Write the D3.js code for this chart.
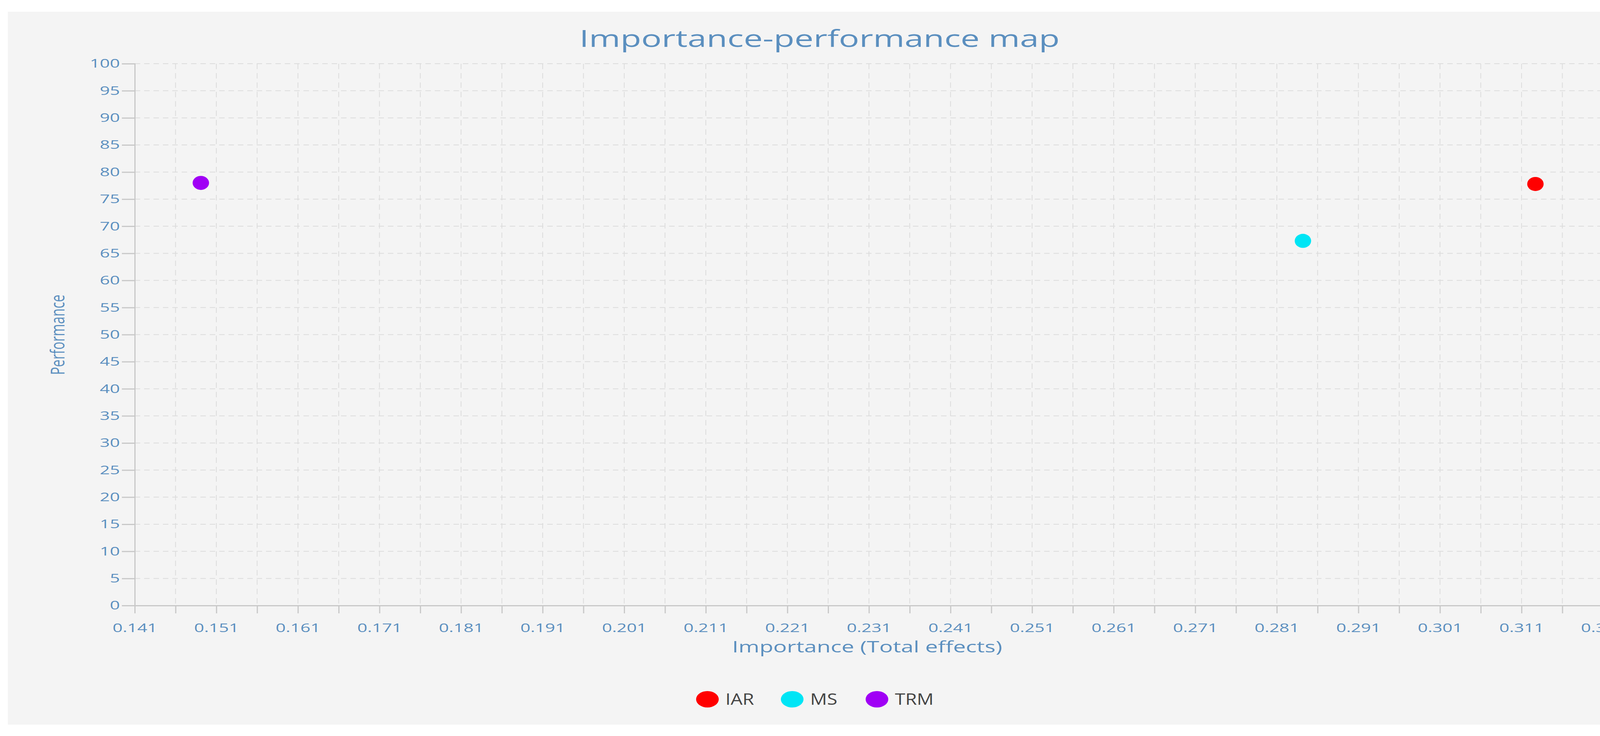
<!DOCTYPE html>
<html><head><meta charset="utf-8">
<script src="https://cdn.jsdelivr.net/npm/d3@7"></script>
<style>html,body{margin:0;padding:0;background:#fff;overflow:hidden}svg{display:block}</style></head>
<body><svg id="c" width="4200" height="1884"></svg>
<script>
const names = ["IAR","MS","TRM"];
const importance = [0.3127,0.2842,0.1491];
const performance = [77.8,67.3,78.0];
const colors = ["#ff0000","#00e5f5","#a000f5"];
const xTickLabels = ["0.141","0.151","0.161","0.171","0.181","0.191","0.201","0.211","0.221","0.231","0.241","0.251","0.261","0.271","0.281","0.291","0.301","0.311","0.321"];
const yTicks = d3.range(0,101,5);

const svg = d3.select("#c");
const font = "'Open Sans', 'Noto Sans', sans-serif";
const blue = "#5b8fbf";
const SX = 1.45;
svg.append("rect").attr("x",20).attr("y",30).attr("width",4158).attr("height",1825).attr("fill","#f4f4f4");

const L=345,R=4104,T=163,B=1550;
const x=d3.scaleLinear().domain([0.141,0.321]).range([L,R]);
const y=d3.scaleLinear().domain([0,100]).range([B,T]);
const minor=d3.range(0,37).map(i=>0.141+i*0.005);

const g=svg.append("g");
g.selectAll(".vg").data(minor.slice(1)).enter().append("line")
 .attr("x1",d=>x(d)).attr("x2",d=>x(d)).attr("y1",T).attr("y2",B)
 .attr("stroke","#dcdcdc").attr("stroke-width",2).attr("stroke-dasharray","14,10");
g.selectAll(".hg").data(yTicks.slice(1)).enter().append("line")
 .attr("x1",L).attr("x2",R).attr("y1",d=>y(d)).attr("y2",d=>y(d))
 .attr("stroke","#dcdcdc").attr("stroke-width",2).attr("stroke-dasharray","14,10");

const xa=svg.append("g").attr("transform",`translate(0,${B})`)
 .call(d3.axisBottom(x).tickValues(minor).tickSize(20).tickFormat((d,i)=>i%2===0?xTickLabels[i/2]:""));
const ya=svg.append("g").attr("transform",`translate(${L},0)`)
 .call(d3.axisLeft(y).tickValues(yTicks).tickSize(33).tickFormat(d3.format("d")));
[xa,ya].forEach(a=>{a.selectAll("path,line").attr("stroke","#c8c8c8").attr("stroke-width",3);
 a.selectAll("text").attr("fill",blue).style("font-family",font).style("font-size","31px")
  .attr("transform",`scale(${SX},1)`);});
xa.selectAll("text").attr("dy","1.45em");
ya.selectAll("text").attr("x",-38/SX);

svg.selectAll(".pt").data(names).enter().append("ellipse")
 .attr("cx",(d,i)=>x(importance[i])).attr("cy",(d,i)=>y(performance[i]))
 .attr("rx",21).attr("ry",18).attr("fill",(d,i)=>colors[i]);

svg.append("text").attr("transform",`translate(2098,120) scale(${SX},1)`).attr("text-anchor","middle")
 .attr("fill",blue).style("font-family",font).style("font-size","60px").text("Importance-performance map");
svg.append("text").attr("transform",`translate(165,857) rotate(-90) scale(1,${SX})`).attr("text-anchor","middle")
 .attr("fill",blue).style("font-family",font).style("font-size","34px").text("Performance");
svg.append("text").attr("transform",`translate(2220,1670) scale(${SX},1)`).attr("text-anchor","middle")
 .attr("fill",blue).style("font-family",font).style("font-size","40px").text("Importance (Total effects)");

const lx=[1811,2028,2245];
const lg=svg.selectAll(".lg").data(names).enter().append("g").attr("transform",(d,i)=>`translate(${lx[i]},1790)`);
lg.append("ellipse").attr("rx",29).attr("ry",21).attr("fill",(d,i)=>colors[i]);
lg.append("text").attr("transform","translate(46,0) scale(1.2,1)").attr("dy","0.35em").attr("fill","#444").style("font-family",font).style("font-size","40px").text(d=>d);
</script></body></html>
